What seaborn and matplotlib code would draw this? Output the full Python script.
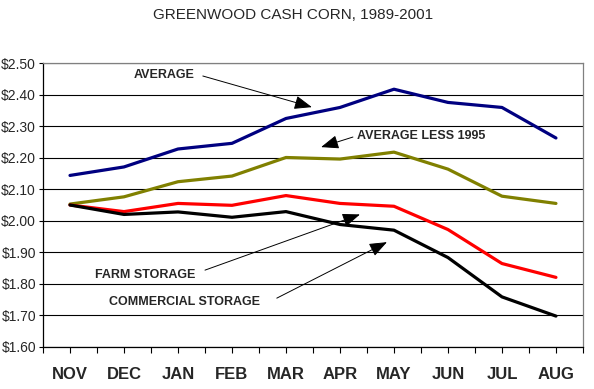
import matplotlib
matplotlib.use("Agg")
import matplotlib.pyplot as plt
import pandas as pd
import seaborn as sns

months = ["NOV", "DEC", "JAN", "FEB", "MAR", "APR", "MAY", "JUN", "JUL", "AUG"]
average = [2.144, 2.171, 2.228, 2.246, 2.325, 2.360, 2.418, 2.376, 2.360, 2.263]
average_less_1995 = [2.053, 2.076, 2.124, 2.142, 2.201, 2.196, 2.218, 2.164, 2.078, 2.055]
farm_storage = [2.050, 2.029, 2.055, 2.049, 2.080, 2.055, 2.046, 1.972, 1.864, 1.820]
commercial_storage = [2.050, 2.020, 2.028, 2.011, 2.029, 1.988, 1.970, 1.883, 1.758, 1.697]
y_ticks = [1.60, 1.70, 1.80, 1.90, 2.00, 2.10, 2.20, 2.30, 2.40, 2.50]

series = {
    "AVERAGE": average,
    "AVERAGE LESS 1995": average_less_1995,
    "FARM STORAGE": farm_storage,
    "COMMERCIAL STORAGE": commercial_storage,
}
colors = {
    "AVERAGE": "#000080",
    "AVERAGE LESS 1995": "#808000",
    "FARM STORAGE": "#ff0000",
    "COMMERCIAL STORAGE": "#000000",
}

rows = []
for name, vals in series.items():
    for i, v in enumerate(vals):
        rows.append({"pos": i, "month": months[i], "price": v, "series": name})
df = pd.DataFrame(rows)

sns.set_style("white")
plt.rcParams["font.family"] = ["Liberation Sans", "DejaVu Sans"]

fig = plt.figure(figsize=(5.94, 3.89), dpi=100)
ax = fig.add_axes([0.0724, 0.109, 0.909, 0.728])

sns.lineplot(data=df, x="pos", y="price", hue="series", palette=colors,
             linewidth=2.3, legend=False, ax=ax, zorder=3)

ax.set_xlim(-0.5, 9.5)
ax.set_ylim(1.60, 2.50)
ax.set_yticks(y_ticks)
ax.set_yticklabels(["\\$%.2f" % t for t in y_ticks], fontsize=10)
ax.set_xticks(range(len(months)))
ax.set_xticklabels(months, fontsize=12, fontweight="bold")
ax.set_xticks([i + 0.5 for i in range(-1, 10)], minor=True)
ax.tick_params(axis="x", which="both", direction="out", length=4, width=0.8,
               color="black", pad=11, bottom=True)
ax.tick_params(axis="y", direction="out", length=3, width=0.8,
               color="black", pad=2, left=True)
ax.set_xlabel("")
ax.set_ylabel("")

ax.yaxis.grid(True, color="black", linewidth=0.8)
ax.set_axisbelow(True)
for side in ["left", "bottom"]:
    ax.spines[side].set_color("black")
    ax.spines[side].set_linewidth(0.9)
for side in ["top", "right"]:
    ax.spines[side].set_color("#808080")
    ax.spines[side].set_linewidth(0.9)

fig.text(0.493, 0.962, "GREENWOOD CASH CORN, 1989-2001", ha="center",
         va="center", fontsize=11)

arrow = dict(arrowstyle="-|>,head_length=0.9,head_width=0.35",
             color="black", lw=0.7, mutation_scale=12, shrinkA=0, shrinkB=0)
txt = dict(fontsize=9, fontweight="bold", va="center", ha="left")

ax.text(1.18, 2.463, "AVERAGE", **txt)
ax.annotate("", xy=(4.48, 2.361), xytext=(2.46, 2.46), arrowprops=arrow)

ax.text(5.31, 2.269, "AVERAGE LESS 1995", **txt)
ax.annotate("", xy=(4.65, 2.234), xytext=(5.24, 2.266), arrowprops=arrow)

ax.text(0.46, 1.827, "FARM STORAGE", **txt)
ax.annotate("", xy=(5.37, 2.02), xytext=(2.5, 1.843), arrowprops=arrow)

ax.text(0.72, 1.741, "COMMERCIAL STORAGE", **txt)
ax.annotate("", xy=(5.87, 1.932), xytext=(3.83, 1.754), arrowprops=arrow)

plt.savefig("out.png", dpi=100)
